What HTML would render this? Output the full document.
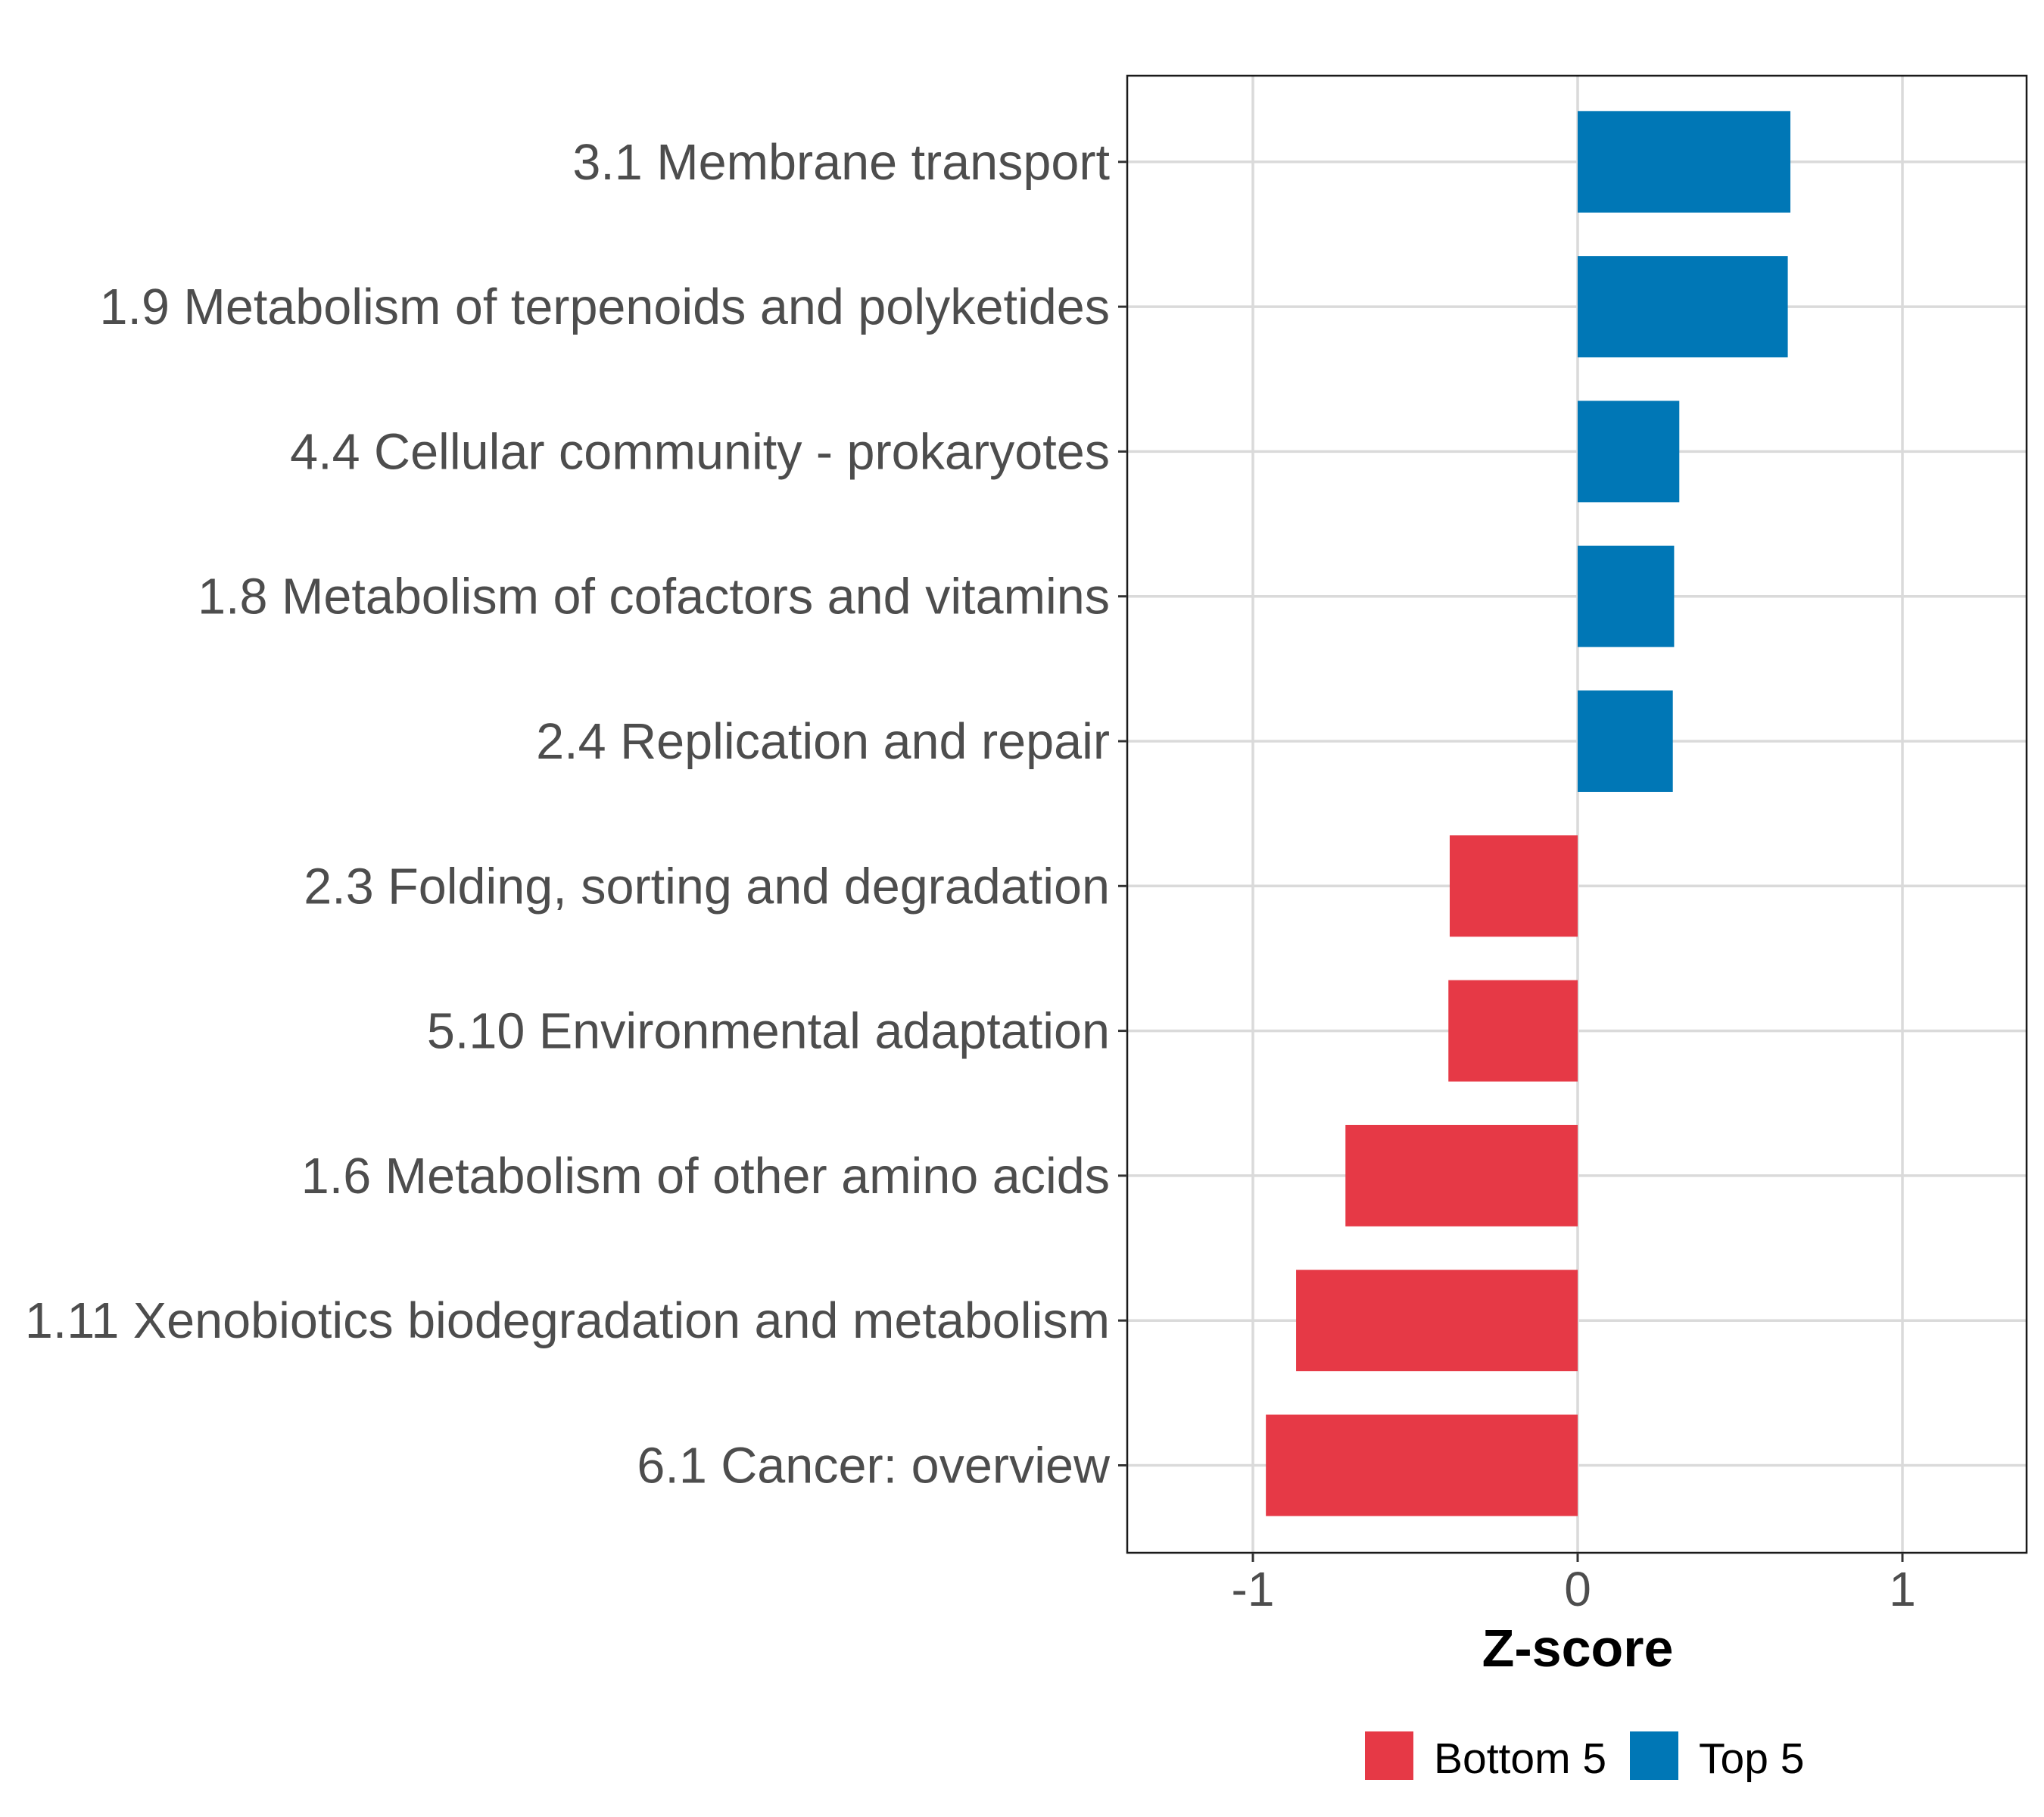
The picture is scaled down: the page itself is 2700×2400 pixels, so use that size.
<!DOCTYPE html>
<html><head><meta charset="utf-8"><style>
html,body{margin:0;padding:0;background:#fff;}
svg{display:block;font-family:"Liberation Sans",Arial,sans-serif;}
</style></head><body>
<svg id="chart" width="2700" height="2400" viewBox="0 0 2700 2400"></svg>
<script>
const categories = ["3.1 Membrane transport","1.9 Metabolism of terpenoids and polyketides","4.4 Cellular community - prokaryotes","1.8 Metabolism of cofactors and vitamins","2.4 Replication and repair","2.3 Folding, sorting and degradation","5.10 Environmental adaptation","1.6 Metabolism of other amino acids","1.11 Xenobiotics biodegradation and metabolism","6.1 Cancer: overview"];
const zscores = [0.655,0.647,0.313,0.297,0.293,-0.394,-0.398,-0.715,-0.867,-0.960];
const groups = ["Top 5","Top 5","Top 5","Top 5","Top 5","Bottom 5","Bottom 5","Bottom 5","Bottom 5","Bottom 5"];
const xTicks = [-1,0,1];
const xTickLabels = ["-1","0","1"];
const legendLabels = ["Bottom 5","Top 5"];

const NS="http://www.w3.org/2000/svg";
const svg=document.getElementById('chart');
const L=1489,R=2677,T=100,B=2051;
const x=v=>2084+v*429;
const rowH=191.3, y0=213.8;
const y=i=>y0+i*rowH;
const colors={"Bottom 5":"#E63946","Top 5":"#0077B6"};
function mk(tag,attrs,parent){const e=document.createElementNS(NS,tag);for(const k in attrs)e.setAttribute(k,attrs[k]);(parent||svg).appendChild(e);return e;}

const grid=mk('g',{});


xTicks.forEach(t=>{const l=mk('line',{x1:x(t),x2:x(t),y1:T,y2:B,stroke:'#dadada','stroke-width':3.5},grid);

});
categories.forEach((c,i)=>{const l=mk('line',{x1:L,x2:R,y1:y(i),y2:y(i),stroke:'#dadada','stroke-width':3.5},grid);

});

const bars=mk('g',{});


const bh=rowH*0.7;
zscores.forEach((v,i)=>{const x1=Math.min(x(0),x(v)),w=Math.abs(x(v)-x(0));
const r=mk('rect',{x:x1,y:y(i)-bh/2,width:w,height:bh,fill:colors[groups[i]]},bars);

});

const frame=mk('rect',{x:L,y:T,width:R-L,height:B-T,fill:'none',stroke:'#1a1a1a','stroke-width':2.5});



categories.forEach((c,i)=>{
const tk=mk('line',{x1:L-12,x2:L,y1:y(i),y2:y(i),stroke:'#333','stroke-width':3});


const t=mk('text',{x:1466,y:y(i)+23,'text-anchor':'end','font-size':66.5,fill:'#4d4d4d'});
t.textContent=c;

});

xTicks.forEach((v,i)=>{
const tk=mk('line',{x1:x(v),x2:x(v),y1:B,y2:B+12,stroke:'#333','stroke-width':3});


const t=mk('text',{x:x(v),y:2121,'text-anchor':'middle','font-size':64,fill:'#4d4d4d'});
t.textContent=xTickLabels[i];

});

const xt=mk('text',{x:x(0),y:2201,'text-anchor':'middle','font-size':70,'font-weight':'bold',fill:'#000'});
xt.textContent='Z-score';



const lg=mk('g',{});


const keyX=[1803,2153], textX=[1894,2244];
legendLabels.forEach((lab,i)=>{
const r=mk('rect',{x:keyX[i],y:2287,width:64,height:64,fill:colors[lab]},lg);


const t=mk('text',{x:textX[i],y:2342,'font-size':57,fill:'#000'},lg);
t.textContent=lab;

});
</script>
</body></html>
